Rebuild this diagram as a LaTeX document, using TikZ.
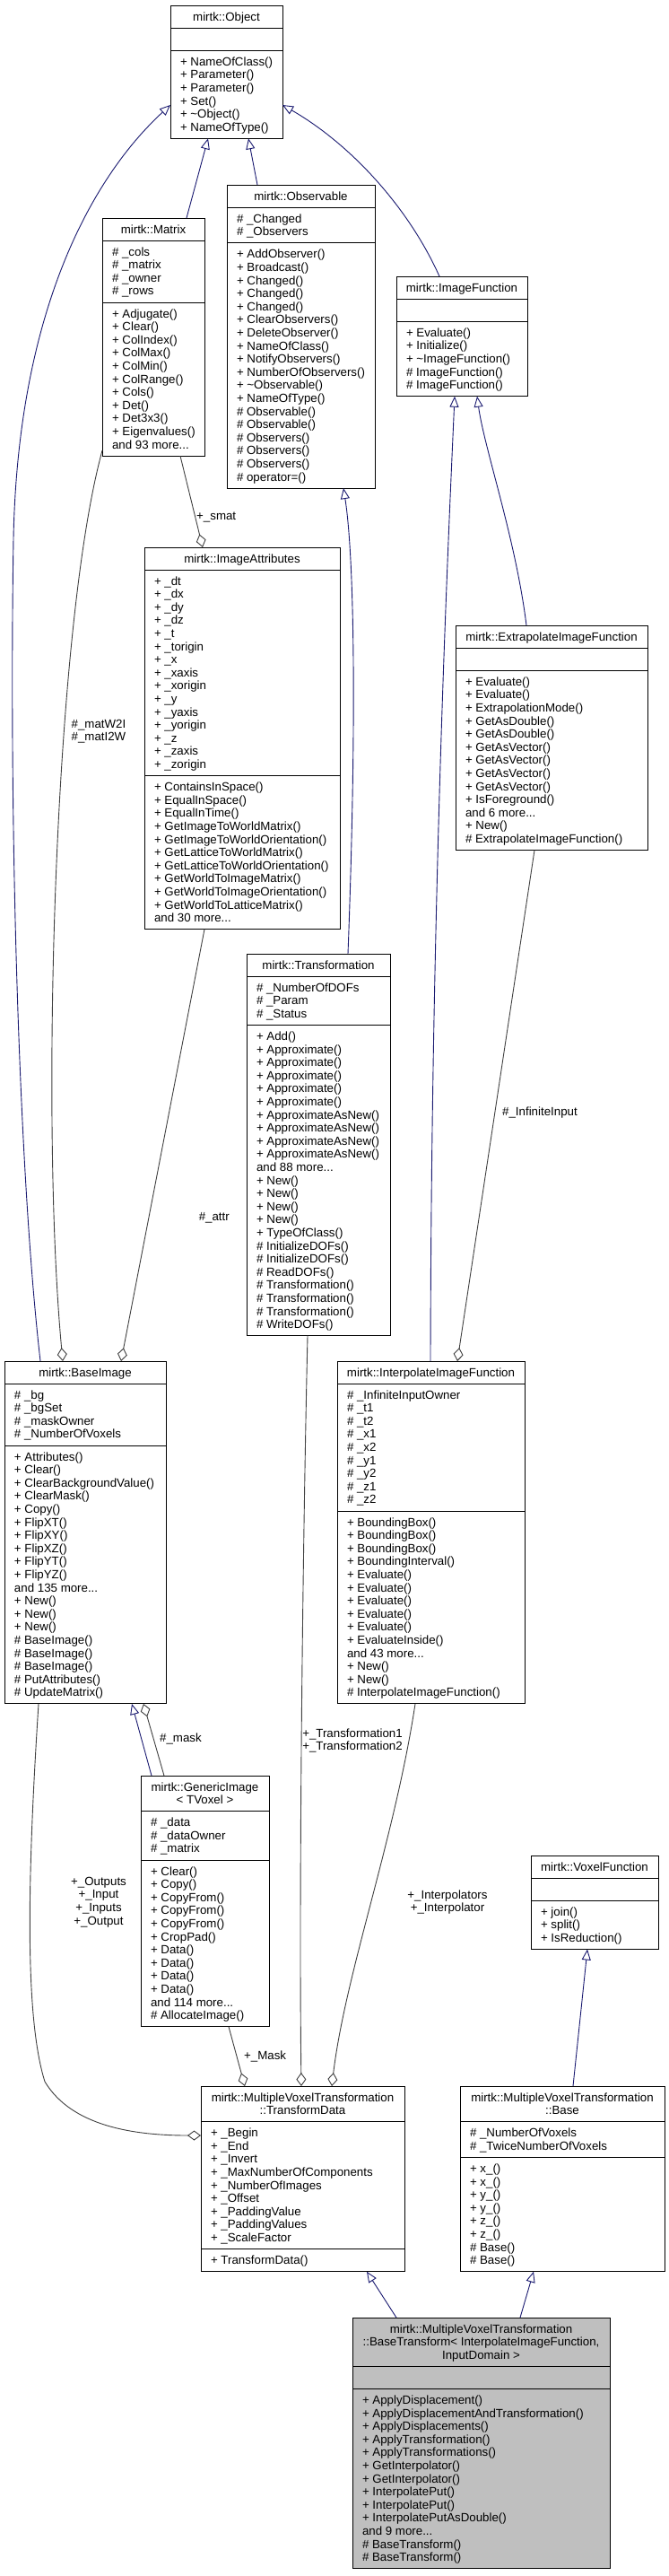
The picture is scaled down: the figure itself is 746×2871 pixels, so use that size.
\documentclass[tikz,border=0pt]{standalone}
\usepackage{fontspec}
\setmainfont{Liberation Sans}
\usetikzlibrary{arrows.meta,calc}
\definecolor{mblue}{HTML}{191970}
\definecolor{ugrey}{HTML}{404040}
\definecolor{greyfill}{HTML}{BFBFBF}
\newcommand\fs{\fontsize{13.3}{14.6}\selectfont}
\newcommand\NL{\\\strut}
\newcommand\clsatt{}
\newcommand\clsmth{}
\newcommand\cls[9]{%
  \pgfmathsetmacro\clsT{14.6*#5+10.5}%
  \pgfmathsetmacro\clsA{14.6*#6+10.5}%
  \pgfmathsetmacro\clsM{14.6*#7+10.5}%
  \pgfmathsetmacro\clsTA{\clsT+\clsA}%
  \pgfmathsetmacro\clsH{\clsT+\clsA+\clsM}%
  \node[box,#9,minimum width=#4pt,minimum height=\clsH pt,anchor=north west] (#1) at (#2,#3) {};
  \draw[sepl] ($(#1.north west)+(0,\clsT)$) -- ($(#1.north east)+(0,\clsT)$);
  \draw[sepl] ($(#1.north west)+(0,\clsTA)$) -- ($(#1.north east)+(0,\clsTA)$);
  \node[ttl,anchor=north] (#1-t) at ($(#1.north)+(0,6.8)$) {#8};
  \node[txt,anchor=north west] (#1-a) at ($(#1.north west)+(11,\clsT+6.8)$) {\clsatt};
  \node[txt,anchor=north west] (#1-m) at ($(#1.north west)+(11,\clsTA+6.8)$) {\clsmth};
}
\begin{document}
\begin{tikzpicture}[x=1pt,y=-1pt,
  box/.style={draw=black,line width=0.9pt,fill=white,inner sep=0pt,outer sep=0pt},
  sepl/.style={draw=black,line width=0.9pt},
  txt/.style={font=\fs,align=left,inner sep=0pt,outer sep=0pt},
  ttl/.style={font=\fs,align=center,inner sep=0pt,outer sep=0pt},
  lbl/.style={font=\fs,inner sep=0pt,text=black},
  inh/.style={draw=mblue,line width=0.9pt,-{Triangle[open,length=12pt,width=10pt]}},
  agg/.style={draw=ugrey,line width=0.9pt,-{Diamond[open,length=15pt,width=11pt]}}]
\fill[white] (0,0) rectangle (746,2871);
\useasboundingbox (0,0) rectangle (746,2871);

% Object
\renewcommand\clsatt{}
\renewcommand\clsmth{\strut + NameOfClass()\NL + Parameter()\NL + Parameter()\NL + Set()\NL + \textasciitilde Object()\NL + NameOfType()}
\cls{obj}{190}{6}{125}{1}{1}{6}{\strut mirtk::Object}{}

% Matrix
\renewcommand\clsatt{\strut \# \_cols\NL \# \_matrix\NL \# \_owner\NL \# \_rows}
\renewcommand\clsmth{\strut + Adjugate()\NL + Clear()\NL + ColIndex()\NL + ColMax()\NL + ColMin()\NL + ColRange()\NL + Cols()\NL + Det()\NL + Det3x3()\NL + Eigenvalues()\NL and 93 more...}
\cls{mat}{114}{243}{114}{1}{4}{11}{\strut mirtk::Matrix}{}

% Observable
\renewcommand\clsatt{\strut \# \_Changed\NL \# \_Observers}
\renewcommand\clsmth{\strut + AddObserver()\NL + Broadcast()\NL + Changed()\NL + Changed()\NL + Changed()\NL + ClearObservers()\NL + DeleteObserver()\NL + NameOfClass()\NL + NotifyObservers()\NL + NumberOfObservers()\NL + \textasciitilde Observable()\NL + NameOfType()\NL \# Observable()\NL \# Observable()\NL \# Observers()\NL \# Observers()\NL \# Observers()\NL \# operator=()}
\cls{obs}{253}{206}{165}{1}{2}{18}{\strut mirtk::Observable}{}

% ImageFunction
\renewcommand\clsatt{}
\renewcommand\clsmth{\strut + Evaluate()\NL + Initialize()\NL + \textasciitilde ImageFunction()\NL \# ImageFunction()\NL \# ImageFunction()}
\cls{imf}{442}{308}{146}{1}{1}{5}{\strut mirtk::ImageFunction}{}

% ImageAttributes
\renewcommand\clsatt{\strut + \_dt\NL + \_dx\NL + \_dy\NL + \_dz\NL + \_t\NL + \_torigin\NL + \_x\NL + \_xaxis\NL + \_xorigin\NL + \_y\NL + \_yaxis\NL + \_yorigin\NL + \_z\NL + \_zaxis\NL + \_zorigin}
\renewcommand\clsmth{\strut + ContainsInSpace()\NL + EqualInSpace()\NL + EqualInTime()\NL + GetImageToWorldMatrix()\NL + GetImageToWorldOrientation()\NL + GetLatticeToWorldMatrix()\NL + GetLatticeToWorldOrientation()\NL + GetWorldToImageMatrix()\NL + GetWorldToImageOrientation()\NL + GetWorldToLatticeMatrix()\NL and 30 more...}
\cls{iat}{161}{610}{218}{1}{15}{11}{\strut mirtk::ImageAttributes}{}

% ExtrapolateImageFunction
\renewcommand\clsatt{}
\renewcommand\clsmth{\strut + Evaluate()\NL + Evaluate()\NL + ExtrapolationMode()\NL + GetAsDouble()\NL + GetAsDouble()\NL + GetAsVector()\NL + GetAsVector()\NL + GetAsVector()\NL + GetAsVector()\NL + IsForeground()\NL and 6 more...\NL + New()\NL \# ExtrapolateImageFunction()}
\cls{ext}{508}{697}{214}{1}{1}{13}{\strut mirtk::ExtrapolateImageFunction}{}

% Transformation
\renewcommand\clsatt{\strut \# \_NumberOfDOFs\NL \# \_Param\NL \# \_Status}
\renewcommand\clsmth{\strut + Add()\NL + Approximate()\NL + Approximate()\NL + Approximate()\NL + Approximate()\NL + Approximate()\NL + ApproximateAsNew()\NL + ApproximateAsNew()\NL + ApproximateAsNew()\NL + ApproximateAsNew()\NL and 88 more...\NL + New()\NL + New()\NL + New()\NL + New()\NL + TypeOfClass()\NL \# InitializeDOFs()\NL \# InitializeDOFs()\NL \# ReadDOFs()\NL \# Transformation()\NL \# Transformation()\NL \# Transformation()\NL \# WriteDOFs()}
\cls{trf}{275}{1063}{160}{1}{3}{23}{\strut mirtk::Transformation}{}

% BaseImage
\renewcommand\clsatt{\strut \# \_bg\NL \# \_bgSet\NL \# \_maskOwner\NL \# \_NumberOfVoxels}
\renewcommand\clsmth{\strut + Attributes()\NL + Clear()\NL + ClearBackgroundValue()\NL + ClearMask()\NL + Copy()\NL + FlipXT()\NL + FlipXY()\NL + FlipXZ()\NL + FlipYT()\NL + FlipYZ()\NL and 135 more...\NL + New()\NL + New()\NL + New()\NL \# BaseImage()\NL \# BaseImage()\NL \# BaseImage()\NL \# PutAttributes()\NL \# UpdateMatrix()}
\cls{bim}{5}{1517}{180}{1}{4}{19}{\strut mirtk::BaseImage}{}

% InterpolateImageFunction
\renewcommand\clsatt{\strut \# \_InfiniteInputOwner\NL \# \_t1\NL \# \_t2\NL \# \_x1\NL \# \_x2\NL \# \_y1\NL \# \_y2\NL \# \_z1\NL \# \_z2}
\renewcommand\clsmth{\strut + BoundingBox()\NL + BoundingBox()\NL + BoundingBox()\NL + BoundingInterval()\NL + Evaluate()\NL + Evaluate()\NL + Evaluate()\NL + Evaluate()\NL + Evaluate()\NL + EvaluateInside()\NL and 43 more...\NL + New()\NL + New()\NL \# InterpolateImageFunction()}
\cls{itp}{376}{1517}{209}{1}{9}{14}{\strut mirtk::InterpolateImageFunction}{}

% GenericImage
\renewcommand\clsatt{\strut \# \_data\NL \# \_dataOwner\NL \# \_matrix}
\renewcommand\clsmth{\strut + Clear()\NL + Copy()\NL + CopyFrom()\NL + CopyFrom()\NL + CopyFrom()\NL + CropPad()\NL + Data()\NL + Data()\NL + Data()\NL + Data()\NL and 114 more...\NL \# AllocateImage()}
\cls{gen}{157}{1979}{143}{2}{3}{12}{\strut mirtk::GenericImage\NL < TVoxel >}{}

% VoxelFunction
\renewcommand\clsatt{}
\renewcommand\clsmth{\strut + join()\NL + split()\NL + IsReduction()}
\cls{vxf}{592}{2068}{142}{1}{1}{3}{\strut mirtk::VoxelFunction}{}

% TransformData
\renewcommand\clsatt{\strut + \_Begin\NL + \_End\NL + \_Invert\NL + \_MaxNumberOfComponents\NL + \_NumberOfImages\NL + \_Offset\NL + \_PaddingValue\NL + \_PaddingValues\NL + \_ScaleFactor}
\renewcommand\clsmth{\strut + TransformData()}
\cls{tfd}{224}{2325}{227}{2}{9}{1}{\strut mirtk::MultipleVoxelTransformation\NL ::TransformData}{}

% Base
\renewcommand\clsatt{\strut \# \_NumberOfVoxels\NL \# \_TwiceNumberOfVoxels}
\renewcommand\clsmth{\strut + x\_()\NL + x\_()\NL + y\_()\NL + y\_()\NL + z\_()\NL + z\_()\NL \# Base()\NL \# Base()}
\cls{bas}{513}{2325}{228}{2}{2}{8}{\strut mirtk::MultipleVoxelTransformation\NL ::Base}{}

% BaseTransform
\renewcommand\clsatt{}
\renewcommand\clsmth{\strut + ApplyDisplacement()\NL + ApplyDisplacementAndTransformation()\NL + ApplyDisplacements()\NL + ApplyTransformation()\NL + ApplyTransformations()\NL + GetInterpolator()\NL + GetInterpolator()\NL + InterpolatePut()\NL + InterpolatePut()\NL + InterpolatePutAsDouble()\NL and 9 more...\NL \# BaseTransform()\NL \# BaseTransform()}
\cls{btr}{393}{2583}{287}{3}{1}{13}{\strut mirtk::MultipleVoxelTransformation\NL ::BaseTransform< InterpolateImageFunction,\NL InputDomain >}{fill=greyfill}

% inheritance edges
\draw[inh] ($(mat.north west)+(94,0)$) -- ($(obj.south west)+(42,0)$);
\draw[inh] ($(obs.north west)+(34,0)$) -- ($(obj.south west)+(87,0)$);
\draw[inh] ($(imf.north west)+(48,0)$) .. controls (455,230) and (390,160) .. ($(obj.north east)+(0,111)$);
\draw[inh] ($(bim.north west)+(40,0)$) .. controls (20,1300) and (10,900) .. (15,600) .. controls (20,350) and (100,200) .. ($(obj.north west)+(0,111)$);
\draw[inh] ($(trf.north west)+(113,0)$) .. controls (398,800) and (395,620) .. ($(obs.south west)+(130,0)$);
\draw[inh] ($(itp.north west)+(104,0)$) .. controls (481,1000) and (500,600) .. ($(imf.south west)+(65,0)$);
\draw[inh] ($(ext.north west)+(79,0)$) .. controls (575,600) and (540,500) .. ($(imf.south west)+(90,0)$);
\draw[inh] ($(gen.north west)+(12,0)$) -- ($(bim.south west)+(142,0)$);
\draw[inh] ($(btr.north west)+(49,0)$) -- ($(tfd.south west)+(185,0)$);
\draw[inh] ($(btr.north west)+(187,0)$) -- ($(bas.south west)+(82,0)$);
\draw[inh] ($(bas.north west)+(126,0)$) -- ($(vxf.south west)+(63,0)$);

% usage edges
\draw[agg] ($(mat.south west)+(87,0)$) -- ($(iat.north west)+(65,0)$);
\draw[agg] ($(mat.south west)+(0,-6)$) .. controls (60,700) and (45,1250) .. ($(bim.north west)+(65,0)$);
\draw[agg] ($(iat.south west)+(67,0)$) -- ($(bim.north west)+(130,0)$);
\draw[agg] ($(ext.south west)+(88,0)$) -- ($(itp.north west)+(134,0)$);
\draw[agg] ($(gen.north west)+(26,0)$) -- ($(bim.south west)+(155,0)$);
\draw[agg] ($(gen.south west)+(98,0)$) -- ($(tfd.north west)+(49,0)$);
\draw[agg] ($(trf.south west)+(68,0)$) .. controls (338,1700) and (333,2100) .. ($(tfd.north west)+(112,0)$);
\draw[agg] ($(itp.south west)+(87,0)$) .. controls (440,2050) and (385,2200) .. ($(tfd.north west)+(146,0)$);
\draw[agg] ($(bim.south west)+(38,0)$) .. controls (30,2100) and (28,2250) .. (50,2320) .. controls (80,2370) and (150,2380) .. ($(tfd.north west)+(0,55)$);

% labels
\node[lbl,anchor=west] (l-smat) at (219,577) {+\_smat};
\node[lbl,align=center] (l-mw) at (110,815) {\#\_matW2I\\\#\_matI2W};
\node[lbl,anchor=east] (l-attr) at (256,1357) {\#\_attr};
\node[lbl,anchor=west] (l-inf) at (560,1240) {\#\_InfiniteInput};
\node[lbl,anchor=west] (l-mask) at (178,1938) {\#\_mask};
\node[lbl,anchor=west] (l-Mask) at (272,2292) {+\_Mask};
\node[lbl,align=center] (l-trf) at (393,1940) {+\_Transformation1\\+\_Transformation2};
\node[lbl,align=center] (l-itp) at (499,2120) {+\_Interpolators\\+\_Interpolator};
\node[lbl,align=center] (l-out) at (110,2120) {+\_Outputs\\+\_Input\\+\_Inputs\\+\_Output};
\end{tikzpicture}
\end{document}
